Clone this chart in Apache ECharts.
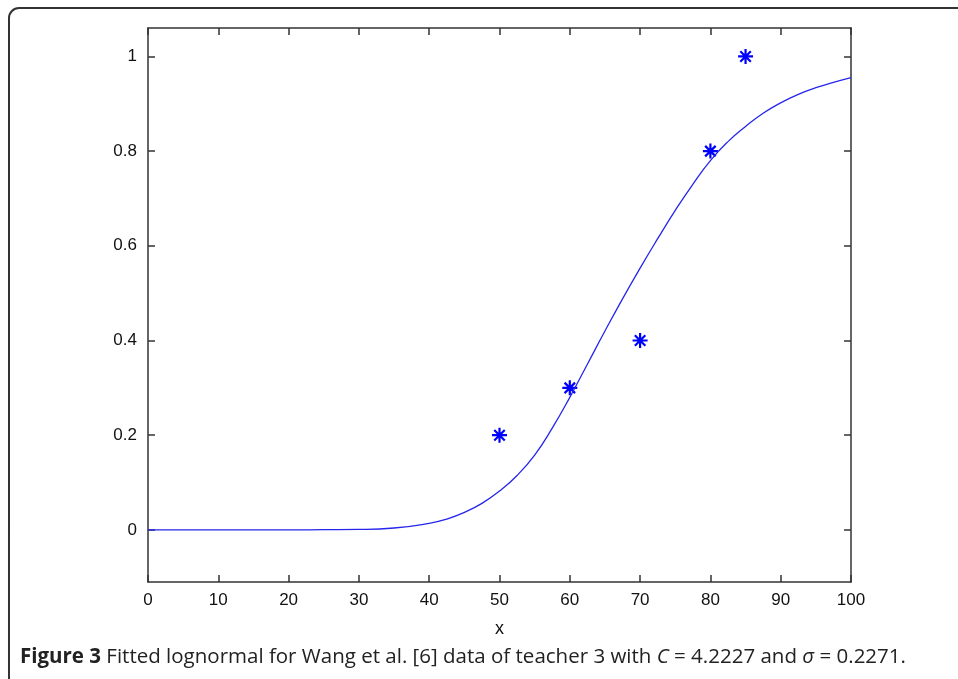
<!DOCTYPE html>
<html>
<head>
<meta charset="utf-8">
<script src="https://cdn.jsdelivr.net/npm/echarts@6/dist/echarts.min.js"></script>
<style>
  html, body { margin: 0; padding: 0; background: #fff; }
  #chart { width: 958px; height: 679px; }
</style>
</head>
<body>
<div id="chart"></div>
<script>
// fitted curve
const curveX = [0, 5, 10, 15, 20, 25, 30, 35, 40, 42.5, 45, 47.5, 50, 52.5, 55, 57.5, 60, 62.5, 65, 67.5, 70,
                72.5, 75, 77.5, 80, 82.5, 85, 87.5, 90, 92.5, 95, 97.5, 100];
const curveY = [0, 0, 0, 0, 0, 0.0005, 0.001, 0.004, 0.014, 0.023, 0.037, 0.056, 0.082, 0.115, 0.158, 0.215, 0.28, 0.35, 0.42, 0.488, 0.553,
                0.615, 0.675, 0.73, 0.78, 0.82, 0.852, 0.88, 0.902, 0.92, 0.934, 0.945, 0.955];
// observed points (asterisks)
const pointsX = [50, 60, 70, 80, 85];
const pointsY = [0.2, 0.3, 0.4, 0.8, 1.0];
const yTicks = [0, 0.2, 0.4, 0.6, 0.8, 1];

const chart = echarts.init(document.getElementById('chart'));
const blue = '#2525ee';
const axisCol = '#333';
const star = 'path://M0,-10L0,10M-10,0L10,0M-7,-7L7,7M-7,7L7,-7';

const axisBase = {
  type: 'value',
  axisLine: { show: true, onZero: false, lineStyle: { color: axisCol, width: 1.5 } },
  axisTick: { show: true, inside: true, length: 7, lineStyle: { color: axisCol, width: 1.5 } },
  splitLine: { show: false },
};
const labelFont = { fontFamily: 'Liberation Sans', fontSize: 17, color: '#111' };

chart.setOption({
  animation: false,
  grid: { left: 148, top: 28, width: 703, height: 554 },
  xAxis: [
    Object.assign({}, axisBase, {
      min: 0, max: 100, interval: 10,
      name: 'x', nameLocation: 'middle', nameGap: 38,
      nameTextStyle: { fontFamily: 'Liberation Sans', fontSize: 18, color: '#111' },
      axisLabel: Object.assign({ margin: 10 }, labelFont),
    }),
    Object.assign({}, axisBase, {
      position: 'top', min: 0, max: 100, interval: 10,
      axisLabel: { show: false },
    }),
  ],
  yAxis: [
    Object.assign({}, axisBase, {
      min: -0.11, max: 1.06,
      axisTick: Object.assign({}, axisBase.axisTick, { customValues: yTicks }),
      axisLabel: Object.assign({ customValues: yTicks, margin: 11 }, labelFont),
    }),
    Object.assign({}, axisBase, {
      position: 'right', min: -0.11, max: 1.06,
      axisTick: Object.assign({}, axisBase.axisTick, { customValues: yTicks }),
      axisLabel: { show: false, customValues: yTicks },
    }),
  ],
  series: [
    {
      type: 'line',
      data: curveX.map((x, i) => [x, curveY[i]]),
      smooth: true,
      showSymbol: false,
      lineStyle: { color: blue, width: 1.3 },
    },
    {
      type: 'scatter',
      data: pointsX.map((x, i) => [x, pointsY[i]]),
      symbol: star,
      symbolSize: 15,
      itemStyle: { color: 'none', borderColor: '#0000ff', borderWidth: 2.2, opacity: 1 },
    },
  ],
  graphic: [
    {
      type: 'rect',
      shape: { x: 9, y: 8, width: 1000, height: 680, r: 10 },
      style: { fill: 'none', stroke: '#333', lineWidth: 2 },
      silent: true,
    },
    {
      type: 'text',
      left: 20, top: 647,
      style: {
        text: '{b|Figure 3} Fitted lognormal for Wang et al. [6] data of teacher 3 with {i|C} = 4.2227 and {i|σ} = 0.2271.',
        font: '20.5px "Open Sans"',
        fill: '#222',
        rich: {
          b: { fontWeight: 'bold', fontFamily: 'Open Sans', fontSize: 20.5, fill: '#222' },
          i: { fontStyle: 'italic', fontFamily: 'Open Sans', fontSize: 20.5, fill: '#222' },
        },
      },
    },
  ],
});
</script>
</body>
</html>
